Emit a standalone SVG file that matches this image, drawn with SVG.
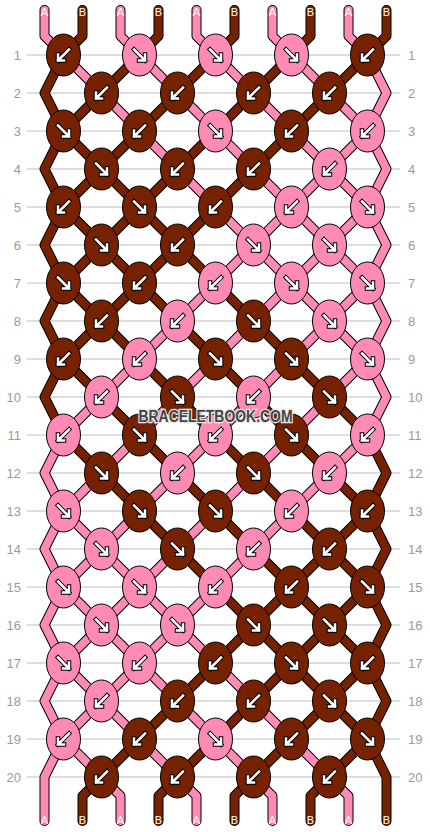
<svg xmlns="http://www.w3.org/2000/svg" xmlns:xlink="http://www.w3.org/1999/xlink" width="430" height="832" viewBox="0 0 430 832">
<style>
.grid line{stroke:#bdbdbd;stroke-width:1}
.num{font-family:"Liberation Sans",Arial,sans-serif;font-size:13px;fill:#9a9a9a}
.l{text-anchor:end}
.r{text-anchor:start}
.t{fill:none;stroke-linejoin:round;stroke-linecap:round}
.o{stroke:#000;stroke-width:10}
.ca{stroke:#ff8ab4;stroke-width:8}
.cb{stroke:#762200;stroke-width:8}
.k{stroke:#000;stroke-width:1}
.b{fill:#762200}
.p{fill:#ff8ab4}
.ao{fill:none;stroke:#000;stroke-width:4.5;stroke-linecap:square;stroke-linejoin:miter}
.ai{fill:none;stroke:#fff;stroke-width:2.5;stroke-linecap:square;stroke-linejoin:miter}
.lab{font-family:"Liberation Sans",Arial,sans-serif;font-size:11px;fill:#fff;text-anchor:middle}
.wm{font-family:"Liberation Sans",Arial,sans-serif;font-size:16px;font-weight:bold;fill:#454545;stroke:#e8e8e8;stroke-width:2.5;paint-order:stroke;text-anchor:middle}
</style>
<defs>
<g id="sw"><path class="ao" d="M5.5,-5.5 L-5.5,5.5 M-5.5,-0.5 L-5.5,5.5 L0.5,5.5"/><path class="ai" d="M5.5,-5.5 L-5.5,5.5 M-5.5,-0.5 L-5.5,5.5 L0.5,5.5"/></g>
<g id="se"><path class="ao" d="M-5.5,-5.5 L5.5,5.5 M5.5,-0.5 L5.5,5.5 L-0.5,5.5"/><path class="ai" d="M-5.5,-5.5 L5.5,5.5 M5.5,-0.5 L5.5,5.5 L-0.5,5.5"/></g>
<polyline id="t0" points="44.5,10 44.5,36 63.5,55 101.5,93 139.5,131 177.5,169 215.5,207 253.5,245 291.5,283 329.5,321 367.5,359 386.5,397 367.5,435 329.5,473 291.5,511 253.5,549 215.5,587 177.5,625 139.5,663 101.5,701 63.5,739 44.5,777 44.5,821"/>
<polyline id="t1" points="82.5,10 82.5,36 63.5,55 44.5,93 63.5,131 101.5,169 139.5,207 177.5,245 215.5,283 253.5,321 291.5,359 329.5,397 367.5,435 386.5,473 367.5,511 329.5,549 291.5,587 253.5,625 215.5,663 177.5,701 139.5,739 101.5,777 82.5,796 82.5,821"/>
<polyline id="t2" points="120.5,10 120.5,36 139.5,55 177.5,93 215.5,131 253.5,169 291.5,207 329.5,245 367.5,283 386.5,321 367.5,359 329.5,397 291.5,435 253.5,473 215.5,511 177.5,549 139.5,587 101.5,625 63.5,663 44.5,701 63.5,739 101.5,777 120.5,796 120.5,821"/>
<polyline id="t3" points="158.5,10 158.5,36 139.5,55 101.5,93 63.5,131 44.5,169 63.5,207 101.5,245 139.5,283 177.5,321 215.5,359 253.5,397 291.5,435 329.5,473 367.5,511 386.5,549 367.5,587 329.5,625 291.5,663 253.5,701 215.5,739 177.5,777 158.5,796 158.5,821"/>
<polyline id="t4" points="196.5,10 196.5,36 215.5,55 253.5,93 291.5,131 329.5,169 367.5,207 386.5,245 367.5,283 329.5,321 291.5,359 253.5,397 215.5,435 177.5,473 139.5,511 101.5,549 63.5,587 44.5,625 63.5,663 101.5,701 139.5,739 177.5,777 196.5,796 196.5,821"/>
<polyline id="t5" points="234.5,10 234.5,36 215.5,55 177.5,93 139.5,131 101.5,169 63.5,207 44.5,245 63.5,283 101.5,321 139.5,359 177.5,397 215.5,435 253.5,473 291.5,511 329.5,549 367.5,587 386.5,625 367.5,663 329.5,701 291.5,739 253.5,777 234.5,796 234.5,821"/>
<polyline id="t6" points="272.5,10 272.5,36 291.5,55 329.5,93 367.5,131 386.5,169 367.5,207 329.5,245 291.5,283 253.5,321 215.5,359 177.5,397 139.5,435 101.5,473 63.5,511 44.5,549 63.5,587 101.5,625 139.5,663 177.5,701 215.5,739 253.5,777 272.5,796 272.5,821"/>
<polyline id="t7" points="310.5,10 310.5,36 291.5,55 253.5,93 215.5,131 177.5,169 139.5,207 101.5,245 63.5,283 44.5,321 63.5,359 101.5,397 139.5,435 177.5,473 215.5,511 253.5,549 291.5,587 329.5,625 367.5,663 386.5,701 367.5,739 329.5,777 310.5,796 310.5,821"/>
<polyline id="t8" points="348.5,10 348.5,36 367.5,55 386.5,93 367.5,131 329.5,169 291.5,207 253.5,245 215.5,283 177.5,321 139.5,359 101.5,397 63.5,435 44.5,473 63.5,511 101.5,549 139.5,587 177.5,625 215.5,663 253.5,701 291.5,739 329.5,777 348.5,796 348.5,821"/>
<polyline id="t9" points="386.5,10 386.5,36 367.5,55 329.5,93 291.5,131 253.5,169 215.5,207 177.5,245 139.5,283 101.5,321 63.5,359 44.5,397 63.5,435 101.5,473 139.5,511 177.5,549 215.5,587 253.5,625 291.5,663 329.5,701 367.5,739 386.5,777 386.5,821"/>
</defs>
<rect width="430" height="832" fill="#fff"/>
<g class="grid">
<line x1="27" y1="55" x2="400" y2="55"/><line x1="27" y1="93" x2="400" y2="93"/><line x1="27" y1="131" x2="400" y2="131"/><line x1="27" y1="169" x2="400" y2="169"/><line x1="27" y1="207" x2="400" y2="207"/><line x1="27" y1="245" x2="400" y2="245"/><line x1="27" y1="283" x2="400" y2="283"/><line x1="27" y1="321" x2="400" y2="321"/><line x1="27" y1="359" x2="400" y2="359"/><line x1="27" y1="397" x2="400" y2="397"/><line x1="27" y1="435" x2="400" y2="435"/><line x1="27" y1="473" x2="400" y2="473"/><line x1="27" y1="511" x2="400" y2="511"/><line x1="27" y1="549" x2="400" y2="549"/><line x1="27" y1="587" x2="400" y2="587"/><line x1="27" y1="625" x2="400" y2="625"/><line x1="27" y1="663" x2="400" y2="663"/><line x1="27" y1="701" x2="400" y2="701"/><line x1="27" y1="739" x2="400" y2="739"/><line x1="27" y1="777" x2="400" y2="777"/>
</g>
<g id="row-numbers" class="num">
<text class="l" x="21" y="59.5">1</text><text class="l" x="21" y="97.5">2</text><text class="l" x="21" y="135.5">3</text><text class="l" x="21" y="173.5">4</text><text class="l" x="21" y="211.5">5</text><text class="l" x="21" y="249.5">6</text><text class="l" x="21" y="287.5">7</text><text class="l" x="21" y="325.5">8</text><text class="l" x="21" y="363.5">9</text><text class="l" x="21" y="401.5">10</text><text class="l" x="21" y="439.5">11</text><text class="l" x="21" y="477.5">12</text><text class="l" x="21" y="515.5">13</text><text class="l" x="21" y="553.5">14</text><text class="l" x="21" y="591.5">15</text><text class="l" x="21" y="629.5">16</text><text class="l" x="21" y="667.5">17</text><text class="l" x="21" y="705.5">18</text><text class="l" x="21" y="743.5">19</text><text class="l" x="21" y="781.5">20</text>
<text class="r" x="408" y="59.5">1</text><text class="r" x="408" y="97.5">2</text><text class="r" x="408" y="135.5">3</text><text class="r" x="408" y="173.5">4</text><text class="r" x="408" y="211.5">5</text><text class="r" x="408" y="249.5">6</text><text class="r" x="408" y="287.5">7</text><text class="r" x="408" y="325.5">8</text><text class="r" x="408" y="363.5">9</text><text class="r" x="408" y="401.5">10</text><text class="r" x="408" y="439.5">11</text><text class="r" x="408" y="477.5">12</text><text class="r" x="408" y="515.5">13</text><text class="r" x="408" y="553.5">14</text><text class="r" x="408" y="591.5">15</text><text class="r" x="408" y="629.5">16</text><text class="r" x="408" y="667.5">17</text><text class="r" x="408" y="705.5">18</text><text class="r" x="408" y="743.5">19</text><text class="r" x="408" y="781.5">20</text>
</g>
<g id="connectors">
<use xlink:href="#t0" href="#t0" class="t o"/><use xlink:href="#t0" href="#t0" class="t ca"/>
<use xlink:href="#t1" href="#t1" class="t o"/><use xlink:href="#t1" href="#t1" class="t cb"/>
<use xlink:href="#t2" href="#t2" class="t o"/><use xlink:href="#t2" href="#t2" class="t ca"/>
<use xlink:href="#t3" href="#t3" class="t o"/><use xlink:href="#t3" href="#t3" class="t cb"/>
<use xlink:href="#t4" href="#t4" class="t o"/><use xlink:href="#t4" href="#t4" class="t ca"/>
<use xlink:href="#t5" href="#t5" class="t o"/><use xlink:href="#t5" href="#t5" class="t cb"/>
<use xlink:href="#t6" href="#t6" class="t o"/><use xlink:href="#t6" href="#t6" class="t ca"/>
<use xlink:href="#t7" href="#t7" class="t o"/><use xlink:href="#t7" href="#t7" class="t cb"/>
<use xlink:href="#t8" href="#t8" class="t o"/><use xlink:href="#t8" href="#t8" class="t ca"/>
<use xlink:href="#t9" href="#t9" class="t o"/><use xlink:href="#t9" href="#t9" class="t cb"/>
</g>
<g id="string-labels" class="lab">
<text x="44.5" y="16">A</text><text x="82.5" y="16">B</text><text x="120.5" y="16">A</text><text x="158.5" y="16">B</text><text x="196.5" y="16">A</text><text x="234.5" y="16">B</text><text x="272.5" y="16">A</text><text x="310.5" y="16">B</text><text x="348.5" y="16">A</text><text x="386.5" y="16">B</text>
<text x="44.5" y="824">A</text><text x="82.5" y="824">B</text><text x="120.5" y="824">A</text><text x="158.5" y="824">B</text><text x="196.5" y="824">A</text><text x="234.5" y="824">B</text><text x="272.5" y="824">A</text><text x="310.5" y="824">B</text><text x="348.5" y="824">A</text><text x="386.5" y="824">B</text>
</g>
<g id="knots">
<g id="k1-1"><ellipse class="k b" cx="63.5" cy="55" rx="17" ry="21"/><use href="#sw" xlink:href="#sw" x="63.5" y="55"/></g>
<g id="k1-2"><ellipse class="k p" cx="139.5" cy="55" rx="17" ry="21"/><use href="#se" xlink:href="#se" x="139.5" y="55"/></g>
<g id="k1-3"><ellipse class="k p" cx="215.5" cy="55" rx="17" ry="21"/><use href="#se" xlink:href="#se" x="215.5" y="55"/></g>
<g id="k1-4"><ellipse class="k p" cx="291.5" cy="55" rx="17" ry="21"/><use href="#se" xlink:href="#se" x="291.5" y="55"/></g>
<g id="k1-5"><ellipse class="k b" cx="367.5" cy="55" rx="17" ry="21"/><use href="#sw" xlink:href="#sw" x="367.5" y="55"/></g>
<g id="k2-1"><ellipse class="k b" cx="101.5" cy="93" rx="17" ry="21"/><use href="#sw" xlink:href="#sw" x="101.5" y="93"/></g>
<g id="k2-2"><ellipse class="k b" cx="177.5" cy="93" rx="17" ry="21"/><use href="#sw" xlink:href="#sw" x="177.5" y="93"/></g>
<g id="k2-3"><ellipse class="k b" cx="253.5" cy="93" rx="17" ry="21"/><use href="#sw" xlink:href="#sw" x="253.5" y="93"/></g>
<g id="k2-4"><ellipse class="k b" cx="329.5" cy="93" rx="17" ry="21"/><use href="#sw" xlink:href="#sw" x="329.5" y="93"/></g>
<g id="k3-1"><ellipse class="k b" cx="63.5" cy="131" rx="17" ry="21"/><use href="#se" xlink:href="#se" x="63.5" y="131"/></g>
<g id="k3-2"><ellipse class="k b" cx="139.5" cy="131" rx="17" ry="21"/><use href="#sw" xlink:href="#sw" x="139.5" y="131"/></g>
<g id="k3-3"><ellipse class="k p" cx="215.5" cy="131" rx="17" ry="21"/><use href="#se" xlink:href="#se" x="215.5" y="131"/></g>
<g id="k3-4"><ellipse class="k b" cx="291.5" cy="131" rx="17" ry="21"/><use href="#sw" xlink:href="#sw" x="291.5" y="131"/></g>
<g id="k3-5"><ellipse class="k p" cx="367.5" cy="131" rx="17" ry="21"/><use href="#sw" xlink:href="#sw" x="367.5" y="131"/></g>
<g id="k4-1"><ellipse class="k b" cx="101.5" cy="169" rx="17" ry="21"/><use href="#se" xlink:href="#se" x="101.5" y="169"/></g>
<g id="k4-2"><ellipse class="k b" cx="177.5" cy="169" rx="17" ry="21"/><use href="#sw" xlink:href="#sw" x="177.5" y="169"/></g>
<g id="k4-3"><ellipse class="k b" cx="253.5" cy="169" rx="17" ry="21"/><use href="#sw" xlink:href="#sw" x="253.5" y="169"/></g>
<g id="k4-4"><ellipse class="k p" cx="329.5" cy="169" rx="17" ry="21"/><use href="#sw" xlink:href="#sw" x="329.5" y="169"/></g>
<g id="k5-1"><ellipse class="k b" cx="63.5" cy="207" rx="17" ry="21"/><use href="#sw" xlink:href="#sw" x="63.5" y="207"/></g>
<g id="k5-2"><ellipse class="k b" cx="139.5" cy="207" rx="17" ry="21"/><use href="#se" xlink:href="#se" x="139.5" y="207"/></g>
<g id="k5-3"><ellipse class="k b" cx="215.5" cy="207" rx="17" ry="21"/><use href="#sw" xlink:href="#sw" x="215.5" y="207"/></g>
<g id="k5-4"><ellipse class="k p" cx="291.5" cy="207" rx="17" ry="21"/><use href="#sw" xlink:href="#sw" x="291.5" y="207"/></g>
<g id="k5-5"><ellipse class="k p" cx="367.5" cy="207" rx="17" ry="21"/><use href="#se" xlink:href="#se" x="367.5" y="207"/></g>
<g id="k6-1"><ellipse class="k b" cx="101.5" cy="245" rx="17" ry="21"/><use href="#se" xlink:href="#se" x="101.5" y="245"/></g>
<g id="k6-2"><ellipse class="k b" cx="177.5" cy="245" rx="17" ry="21"/><use href="#sw" xlink:href="#sw" x="177.5" y="245"/></g>
<g id="k6-3"><ellipse class="k p" cx="253.5" cy="245" rx="17" ry="21"/><use href="#se" xlink:href="#se" x="253.5" y="245"/></g>
<g id="k6-4"><ellipse class="k p" cx="329.5" cy="245" rx="17" ry="21"/><use href="#se" xlink:href="#se" x="329.5" y="245"/></g>
<g id="k7-1"><ellipse class="k b" cx="63.5" cy="283" rx="17" ry="21"/><use href="#se" xlink:href="#se" x="63.5" y="283"/></g>
<g id="k7-2"><ellipse class="k b" cx="139.5" cy="283" rx="17" ry="21"/><use href="#sw" xlink:href="#sw" x="139.5" y="283"/></g>
<g id="k7-3"><ellipse class="k p" cx="215.5" cy="283" rx="17" ry="21"/><use href="#sw" xlink:href="#sw" x="215.5" y="283"/></g>
<g id="k7-4"><ellipse class="k p" cx="291.5" cy="283" rx="17" ry="21"/><use href="#se" xlink:href="#se" x="291.5" y="283"/></g>
<g id="k7-5"><ellipse class="k p" cx="367.5" cy="283" rx="17" ry="21"/><use href="#se" xlink:href="#se" x="367.5" y="283"/></g>
<g id="k8-1"><ellipse class="k b" cx="101.5" cy="321" rx="17" ry="21"/><use href="#sw" xlink:href="#sw" x="101.5" y="321"/></g>
<g id="k8-2"><ellipse class="k p" cx="177.5" cy="321" rx="17" ry="21"/><use href="#sw" xlink:href="#sw" x="177.5" y="321"/></g>
<g id="k8-3"><ellipse class="k b" cx="253.5" cy="321" rx="17" ry="21"/><use href="#se" xlink:href="#se" x="253.5" y="321"/></g>
<g id="k8-4"><ellipse class="k p" cx="329.5" cy="321" rx="17" ry="21"/><use href="#se" xlink:href="#se" x="329.5" y="321"/></g>
<g id="k9-1"><ellipse class="k b" cx="63.5" cy="359" rx="17" ry="21"/><use href="#sw" xlink:href="#sw" x="63.5" y="359"/></g>
<g id="k9-2"><ellipse class="k p" cx="139.5" cy="359" rx="17" ry="21"/><use href="#sw" xlink:href="#sw" x="139.5" y="359"/></g>
<g id="k9-3"><ellipse class="k b" cx="215.5" cy="359" rx="17" ry="21"/><use href="#se" xlink:href="#se" x="215.5" y="359"/></g>
<g id="k9-4"><ellipse class="k b" cx="291.5" cy="359" rx="17" ry="21"/><use href="#se" xlink:href="#se" x="291.5" y="359"/></g>
<g id="k9-5"><ellipse class="k p" cx="367.5" cy="359" rx="17" ry="21"/><use href="#se" xlink:href="#se" x="367.5" y="359"/></g>
<g id="k10-1"><ellipse class="k p" cx="101.5" cy="397" rx="17" ry="21"/><use href="#sw" xlink:href="#sw" x="101.5" y="397"/></g>
<g id="k10-2"><ellipse class="k b" cx="177.5" cy="397" rx="17" ry="21"/><use href="#se" xlink:href="#se" x="177.5" y="397"/></g>
<g id="k10-3"><ellipse class="k p" cx="253.5" cy="397" rx="17" ry="21"/><use href="#sw" xlink:href="#sw" x="253.5" y="397"/></g>
<g id="k10-4"><ellipse class="k b" cx="329.5" cy="397" rx="17" ry="21"/><use href="#se" xlink:href="#se" x="329.5" y="397"/></g>
<g id="k11-1"><ellipse class="k p" cx="63.5" cy="435" rx="17" ry="21"/><use href="#sw" xlink:href="#sw" x="63.5" y="435"/></g>
<g id="k11-2"><ellipse class="k b" cx="139.5" cy="435" rx="17" ry="21"/><use href="#se" xlink:href="#se" x="139.5" y="435"/></g>
<g id="k11-3"><ellipse class="k p" cx="215.5" cy="435" rx="17" ry="21"/><use href="#sw" xlink:href="#sw" x="215.5" y="435"/></g>
<g id="k11-4"><ellipse class="k b" cx="291.5" cy="435" rx="17" ry="21"/><use href="#se" xlink:href="#se" x="291.5" y="435"/></g>
<g id="k11-5"><ellipse class="k p" cx="367.5" cy="435" rx="17" ry="21"/><use href="#sw" xlink:href="#sw" x="367.5" y="435"/></g>
<g id="k12-1"><ellipse class="k b" cx="101.5" cy="473" rx="17" ry="21"/><use href="#se" xlink:href="#se" x="101.5" y="473"/></g>
<g id="k12-2"><ellipse class="k p" cx="177.5" cy="473" rx="17" ry="21"/><use href="#sw" xlink:href="#sw" x="177.5" y="473"/></g>
<g id="k12-3"><ellipse class="k b" cx="253.5" cy="473" rx="17" ry="21"/><use href="#se" xlink:href="#se" x="253.5" y="473"/></g>
<g id="k12-4"><ellipse class="k p" cx="329.5" cy="473" rx="17" ry="21"/><use href="#sw" xlink:href="#sw" x="329.5" y="473"/></g>
<g id="k13-1"><ellipse class="k p" cx="63.5" cy="511" rx="17" ry="21"/><use href="#se" xlink:href="#se" x="63.5" y="511"/></g>
<g id="k13-2"><ellipse class="k b" cx="139.5" cy="511" rx="17" ry="21"/><use href="#se" xlink:href="#se" x="139.5" y="511"/></g>
<g id="k13-3"><ellipse class="k b" cx="215.5" cy="511" rx="17" ry="21"/><use href="#se" xlink:href="#se" x="215.5" y="511"/></g>
<g id="k13-4"><ellipse class="k p" cx="291.5" cy="511" rx="17" ry="21"/><use href="#sw" xlink:href="#sw" x="291.5" y="511"/></g>
<g id="k13-5"><ellipse class="k b" cx="367.5" cy="511" rx="17" ry="21"/><use href="#sw" xlink:href="#sw" x="367.5" y="511"/></g>
<g id="k14-1"><ellipse class="k p" cx="101.5" cy="549" rx="17" ry="21"/><use href="#se" xlink:href="#se" x="101.5" y="549"/></g>
<g id="k14-2"><ellipse class="k b" cx="177.5" cy="549" rx="17" ry="21"/><use href="#se" xlink:href="#se" x="177.5" y="549"/></g>
<g id="k14-3"><ellipse class="k p" cx="253.5" cy="549" rx="17" ry="21"/><use href="#sw" xlink:href="#sw" x="253.5" y="549"/></g>
<g id="k14-4"><ellipse class="k b" cx="329.5" cy="549" rx="17" ry="21"/><use href="#sw" xlink:href="#sw" x="329.5" y="549"/></g>
<g id="k15-1"><ellipse class="k p" cx="63.5" cy="587" rx="17" ry="21"/><use href="#se" xlink:href="#se" x="63.5" y="587"/></g>
<g id="k15-2"><ellipse class="k p" cx="139.5" cy="587" rx="17" ry="21"/><use href="#se" xlink:href="#se" x="139.5" y="587"/></g>
<g id="k15-3"><ellipse class="k p" cx="215.5" cy="587" rx="17" ry="21"/><use href="#sw" xlink:href="#sw" x="215.5" y="587"/></g>
<g id="k15-4"><ellipse class="k b" cx="291.5" cy="587" rx="17" ry="21"/><use href="#sw" xlink:href="#sw" x="291.5" y="587"/></g>
<g id="k15-5"><ellipse class="k b" cx="367.5" cy="587" rx="17" ry="21"/><use href="#se" xlink:href="#se" x="367.5" y="587"/></g>
<g id="k16-1"><ellipse class="k p" cx="101.5" cy="625" rx="17" ry="21"/><use href="#se" xlink:href="#se" x="101.5" y="625"/></g>
<g id="k16-2"><ellipse class="k p" cx="177.5" cy="625" rx="17" ry="21"/><use href="#se" xlink:href="#se" x="177.5" y="625"/></g>
<g id="k16-3"><ellipse class="k b" cx="253.5" cy="625" rx="17" ry="21"/><use href="#se" xlink:href="#se" x="253.5" y="625"/></g>
<g id="k16-4"><ellipse class="k b" cx="329.5" cy="625" rx="17" ry="21"/><use href="#se" xlink:href="#se" x="329.5" y="625"/></g>
<g id="k17-1"><ellipse class="k p" cx="63.5" cy="663" rx="17" ry="21"/><use href="#se" xlink:href="#se" x="63.5" y="663"/></g>
<g id="k17-2"><ellipse class="k p" cx="139.5" cy="663" rx="17" ry="21"/><use href="#sw" xlink:href="#sw" x="139.5" y="663"/></g>
<g id="k17-3"><ellipse class="k b" cx="215.5" cy="663" rx="17" ry="21"/><use href="#sw" xlink:href="#sw" x="215.5" y="663"/></g>
<g id="k17-4"><ellipse class="k b" cx="291.5" cy="663" rx="17" ry="21"/><use href="#se" xlink:href="#se" x="291.5" y="663"/></g>
<g id="k17-5"><ellipse class="k b" cx="367.5" cy="663" rx="17" ry="21"/><use href="#sw" xlink:href="#sw" x="367.5" y="663"/></g>
<g id="k18-1"><ellipse class="k p" cx="101.5" cy="701" rx="17" ry="21"/><use href="#sw" xlink:href="#sw" x="101.5" y="701"/></g>
<g id="k18-2"><ellipse class="k b" cx="177.5" cy="701" rx="17" ry="21"/><use href="#sw" xlink:href="#sw" x="177.5" y="701"/></g>
<g id="k18-3"><ellipse class="k b" cx="253.5" cy="701" rx="17" ry="21"/><use href="#sw" xlink:href="#sw" x="253.5" y="701"/></g>
<g id="k18-4"><ellipse class="k b" cx="329.5" cy="701" rx="17" ry="21"/><use href="#se" xlink:href="#se" x="329.5" y="701"/></g>
<g id="k19-1"><ellipse class="k p" cx="63.5" cy="739" rx="17" ry="21"/><use href="#sw" xlink:href="#sw" x="63.5" y="739"/></g>
<g id="k19-2"><ellipse class="k b" cx="139.5" cy="739" rx="17" ry="21"/><use href="#sw" xlink:href="#sw" x="139.5" y="739"/></g>
<g id="k19-3"><ellipse class="k p" cx="215.5" cy="739" rx="17" ry="21"/><use href="#se" xlink:href="#se" x="215.5" y="739"/></g>
<g id="k19-4"><ellipse class="k b" cx="291.5" cy="739" rx="17" ry="21"/><use href="#sw" xlink:href="#sw" x="291.5" y="739"/></g>
<g id="k19-5"><ellipse class="k b" cx="367.5" cy="739" rx="17" ry="21"/><use href="#se" xlink:href="#se" x="367.5" y="739"/></g>
<g id="k20-1"><ellipse class="k b" cx="101.5" cy="777" rx="17" ry="21"/><use href="#sw" xlink:href="#sw" x="101.5" y="777"/></g>
<g id="k20-2"><ellipse class="k b" cx="177.5" cy="777" rx="17" ry="21"/><use href="#sw" xlink:href="#sw" x="177.5" y="777"/></g>
<g id="k20-3"><ellipse class="k b" cx="253.5" cy="777" rx="17" ry="21"/><use href="#sw" xlink:href="#sw" x="253.5" y="777"/></g>
<g id="k20-4"><ellipse class="k b" cx="329.5" cy="777" rx="17" ry="21"/><use href="#sw" xlink:href="#sw" x="329.5" y="777"/></g>
</g>
<text class="wm" x="215.5" y="421.5" textLength="154" lengthAdjust="spacingAndGlyphs">BRACELETBOOK.COM</text>
</svg>
